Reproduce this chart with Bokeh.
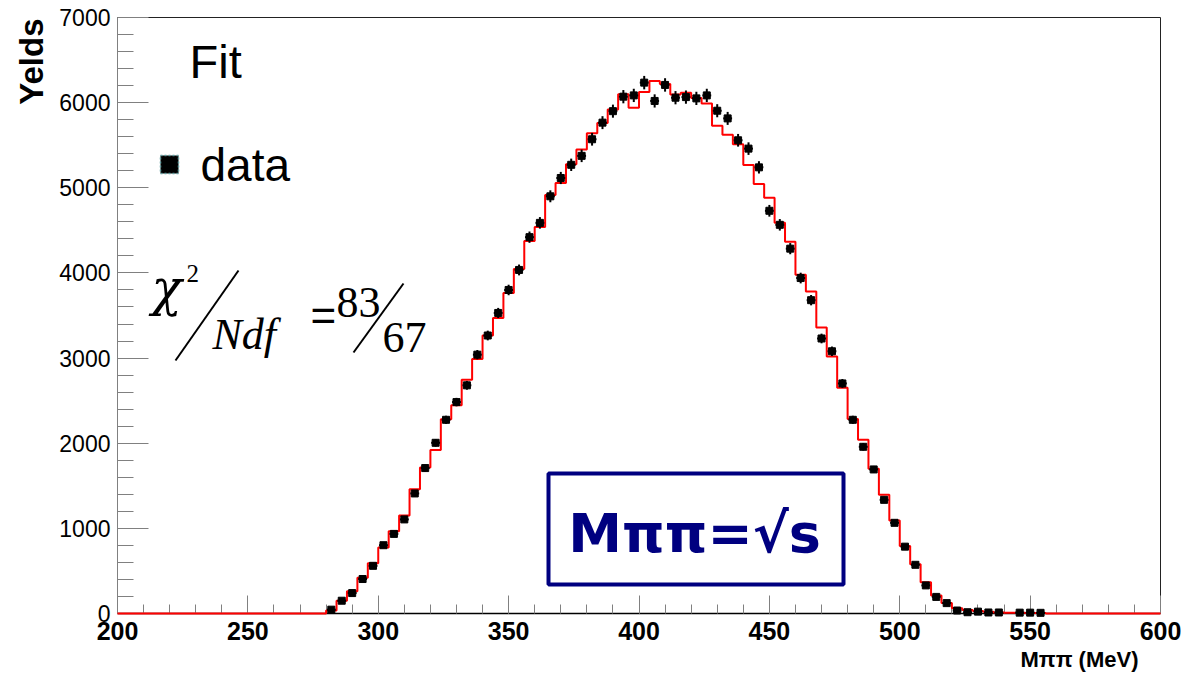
import numpy as np
from bokeh.plotting import figure
from bokeh.models import Range1d, FixedTicker, Title
from bokeh.core.properties import value
from bokeh.embed import file_html
from bokeh.resources import INLINE

# ---------------- data ----------------
bin_centers = [282, 286, 290, 294, 298, 302, 306, 310, 314, 318, 322, 326, 330, 334,
               338, 342, 346, 350, 354, 358, 362, 366, 370, 374, 378, 382, 386, 390,
               394, 398, 402, 406, 410, 414, 418, 422, 426, 430, 434, 438, 442, 446,
               450, 454, 458, 462, 466, 470, 474, 478, 482, 486, 490, 494, 498, 502,
               506, 510, 514, 518, 522, 526, 530, 534, 538, 542, 546, 550, 554]
bin_width = 4

data_counts = [45, 150, 240, 405, 560, 802, 935, 1105, 1410, 1708, 2005, 2275, 2483, 2680,
               3040, 3265, 3530, 3800, 4035, 4420, 4588, 4900, 5115, 5270, 5375, 5570, 5765, 5900,
               6070, 6085, 6235, 6020, 6208, 6058, 6065, 6050, 6085, 5905, 5815, 5558, 5460, 5240,
               4730, 4565, 4285, 3940, 3680, 3230, 3080, 2702, 2275, 1958, 1692, 1335, 1065, 785,
               572, 330, 195, 122, 35, 15, 22, 12, 12, None, 10, 10, 8]

fit_counts = [35, 150, 262, 420, 590, 775, 965, 1150, 1460, 1715, 1920, 2280, 2445, 2745,
              2990, 3265, 3470, 3765, 4045, 4375, 4540, 4915, 5055, 5275, 5450, 5640, 5760, 5920,
              6100, 5940, 6125, 6255, 6220, 6095, 6115, 6055, 5990, 5728, 5622, 5512, 5268, 5043,
              4883, 4590, 4366, 3978, 3782, 3358, 3019, 2652, 2285, 2040, 1701, 1395, 1093, 792,
              579, 367, 212, 122, 61, 41, 29, 20, 12, 10, 8, 6, 5]

x_ticks = [200, 250, 300, 350, 400, 450, 500, 550, 600]
y_ticks = [0, 1000, 2000, 3000, 4000, 5000, 6000, 7000]
x_range = (200, 600)
y_range = (0, 7000)

chi2_num = "83"
chi2_den = "67"

# ---------------- layout helpers (pixel -> data) ----------------
W, H = 1197, 684
FL, FR, FT, FB = 117, 1160, 17, 613


def X(px):
    return x_range[0] + (px - FL) * (x_range[1] - x_range[0]) / (FR - FL)


def Y(py):
    return y_range[0] + (FB - py) * (y_range[1] - y_range[0]) / (FB - FT)


def TB(py, size):
    # baseline position (pixel) -> data y, compensating renderer baseline offset
    return Y(py - 0.37 * size)


p = figure(width=W, height=H, output_backend="svg", toolbar_location=None,
           x_range=Range1d(*x_range), y_range=Range1d(*y_range),
           min_border_left=FL, min_border_right=W - FR,
           min_border_top=FT, min_border_bottom=H - FB)
p.background_fill_color = "white"
p.border_fill_color = "white"
p.outline_line_color = "#222222"
p.outline_line_width = 1
p.xgrid.visible = False
p.ygrid.visible = False

# axes
p.xaxis.ticker = FixedTicker(ticks=x_ticks, minor_ticks=list(np.arange(200, 601, 10)))
p.yaxis.ticker = FixedTicker(ticks=y_ticks, minor_ticks=list(np.arange(0, 7001, 200)))
p.xaxis.major_tick_in = 18
p.xaxis.major_tick_out = 0
p.xaxis.minor_tick_in = 9
p.xaxis.minor_tick_out = 0
p.yaxis.major_tick_in = 31
p.yaxis.major_tick_out = 0
p.yaxis.minor_tick_in = 16
p.yaxis.minor_tick_out = 0
p.xaxis.axis_line_color = "black"
p.xaxis.axis_line_width = 1.5
p.yaxis.axis_line_color = "#808080"
for ax in (p.xaxis, p.yaxis):
    ax.major_tick_line_color = "#808080"
    ax.minor_tick_line_color = "#808080"
    ax.major_label_text_font = "Liberation Sans"
    ax.major_label_text_color = "black"
p.xaxis.major_label_text_font_size = "25px"
p.xaxis.major_label_text_font_style = "bold"
p.xaxis.major_label_standoff = 8
p.yaxis.major_label_text_font_size = "23px"
p.yaxis.major_label_standoff = 7

ty = Title(text="Yelds", align="right", vertical_align="bottom", text_font="Liberation Sans",
           text_font_size="33px", text_font_style="bold", text_color="black",
           standoff=14, offset=1)
p.add_layout(ty, "left")
tx = Title(text="M\u03c0\u03c0 (MeV)", align="right", vertical_align="top",
           text_font="Liberation Sans", text_font_size="22px", text_font_style="bold",
           text_color="black", standoff=8, offset=22)
p.add_layout(tx, "below")

# ---------------- fit histogram (step) ----------------
first_edge = bin_centers[0] - bin_width / 2
last_edge = bin_centers[-1] + bin_width / 2
hx = [x_range[0], first_edge]
hy = [0, 0]
for c, f in zip(bin_centers, fit_counts):
    hx += [c - bin_width / 2, c + bin_width / 2]
    hy += [f, f]
hx += [last_edge, x_range[1]]
hy += [0, 0]
p.line(hx, hy, line_color="#ff0000", line_width=2, level="annotation")

# ---------------- data points ----------------
dc = [c for c, v in zip(bin_centers, data_counts) if v is not None]
dv = [v for v in data_counts if v is not None]
de = [np.sqrt(v) for v in dv]
p.segment(x0=dc, y0=[v - e for v, e in zip(dv, de)], x1=dc, y1=[v + e for v, e in zip(dv, de)],
          line_color="black", line_width=2, level="annotation")
p.segment(x0=[c - 1.7 for c in dc], y0=dv, x1=[c + 1.7 for c in dc], y1=dv,
          line_color="black", line_width=2, level="annotation")
p.scatter(dc, dv, marker="square", size=7, fill_color="black", line_color="black",
          level="annotation")

# ---------------- legend ----------------
sans = value("Liberation Sans")
p.text(x=[X(189)], y=[TB(78, 47)], text=["Fit"], text_font=sans,
       text_font_size="47px", text_baseline="alphabetic", text_align="left", text_color="black")
p.scatter([X(169)], [Y(164)], marker="square", size=18, fill_color="black",
          line_color="#5f9ea0", line_dash="2 2", line_width=1.5)
p.text(x=[X(200)], y=[TB(182, 46)], text=["data"], text_font=sans,
       text_font_size="46px", text_baseline="alphabetic", text_align="left", text_color="black")

# ---------------- chi2 / ndf ----------------
serif = value("Liberation Serif")
p.text(x=[X(151)], y=[TB(306, 50)], text=["\u03c7"], text_font=value("DejaVu Serif"),
       text_font_style="italic", text_font_size="50px", text_baseline="alphabetic")
p.text(x=[X(186)], y=[TB(282, 25)], text=["2"], text_font=serif, text_font_size="25px",
       text_baseline="alphabetic")
p.segment(x0=[X(175)], y0=[Y(360)], x1=[X(238)], y1=[Y(270)], line_color="black", line_width=2)
p.text(x=[X(212)], y=[TB(350, 44)], text=["Ndf"], text_font=serif, text_font_style="italic",
       text_font_size="44px", text_baseline="alphabetic")
p.text(x=[X(310)], y=[TB(331, 44)], text=["="], text_font=sans, text_font_size="44px",
       text_baseline="alphabetic")
p.text(x=[X(336)], y=[TB(318, 44)], text=[chi2_num], text_font=serif, text_font_size="44px",
       text_baseline="alphabetic")
p.segment(x0=[X(353)], y0=[Y(352)], x1=[X(403)], y1=[Y(283)], line_color="black", line_width=2)
p.text(x=[X(382)], y=[TB(353, 44)], text=[chi2_den], text_font=serif, text_font_size="44px",
       text_baseline="alphabetic")

# ---------------- M pi pi = sqrt(s) box ----------------
p.quad(left=[X(548)], right=[X(843)], bottom=[Y(584)], top=[Y(473)],
       fill_color="white", line_color="#000080", line_width=4)
p.text(x=[X(694)], y=[Y(533)], text=["M\u03c0\u03c0=\u221as"], text_font=value("DejaVu Sans"),
       text_font_style="bold", text_font_size="54px", text_color="#000080",
       text_align="center", text_baseline="middle")

open("out.html", "w").write(file_html(p, INLINE))
